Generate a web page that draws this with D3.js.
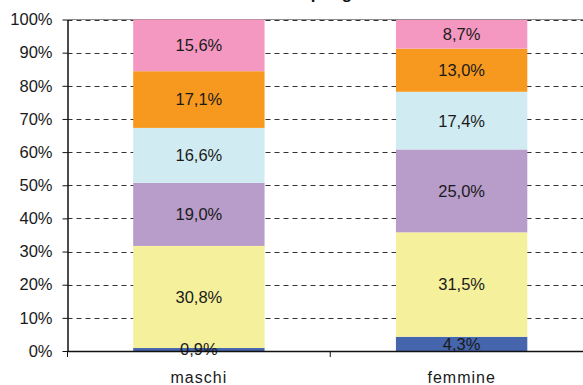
<!DOCTYPE html>
<html>
<head>
<meta charset="utf-8">
<script src="https://cdn.jsdelivr.net/npm/d3@7"></script>
<style>
  html, body { margin: 0; padding: 0; background: #fff; overflow: hidden; }
  svg { display: block; font-family: Arial, "Liberation Sans", sans-serif; }
</style>
</head>
<body>
<svg id="chart" width="583" height="385"></svg>
<script>
// Categories and stacked series (percent shares, bottom to top)
const categories = ["maschi", "femmine"];
const seriesNames = ["s1", "s2", "s3", "s4", "s5", "s6"];
const seriesColors = ["#4565ad", "#f5f09b", "#b89cc9", "#d0ecf2", "#f7991e", "#f498c1"];
const s1 = [0.9, 4.3];
const s2 = [30.8, 31.5];
const s3 = [19.0, 25.0];
const s4 = [16.6, 17.4];
const s5 = [17.1, 13.0];
const s6 = [15.6, 8.7];
const yTicks = [0, 10, 20, 30, 40, 50, 60, 70, 80, 90, 100];
const titleText = "Esito per genere";

const seriesValues = [s1, s2, s3, s4, s5, s6];
const rows = categories.map((c, i) => {
  const r = { cat: c };
  seriesNames.forEach((n, k) => { r[n] = seriesValues[k][i]; });
  return r;
});

const svg = d3.select("#chart");
const plotLeft = 67.5, plotRight = 593, plotTop = 19.5, plotBottom = 351;
const fontFam = "Arial, 'Liberation Sans', sans-serif";

const x = d3.scaleBand().domain(categories).range([plotLeft, plotRight]).paddingInner(0).paddingOuter(0);
const y = d3.scaleLinear().domain([0, 100]).range([plotBottom, plotTop]);
const barW = x.bandwidth() * 0.5;

// title (sits above the visible area)
svg.append("text")
  .attr("x", 331).attr("y", -1)
  .attr("text-anchor", "middle")
  .attr("font-size", 17).attr("font-weight", "bold")
  .attr("fill", "#111")
  .text(titleText);

// top border of plot area
svg.append("line")
  .attr("x1", plotLeft).attr("x2", plotRight)
  .attr("y1", y(100)).attr("y2", y(100))
  .attr("stroke", "#8c8c8c").attr("stroke-width", 1);

// dashed gridlines
svg.append("g").selectAll("line")
  .data(yTicks.filter(d => d > 0))
  .join("line")
  .attr("x1", plotLeft).attr("x2", plotRight)
  .attr("y1", d => Math.round(y(d)) + 0.5).attr("y2", d => Math.round(y(d)) + 0.5)
  .attr("stroke", "#333").attr("stroke-width", 1)
  .attr("stroke-dasharray", "5,4");

// stacked bars
const stack = d3.stack().keys(seriesNames)(rows);
const layers = svg.append("g").selectAll("g")
  .data(stack)
  .join("g")
  .attr("fill", (d, i) => seriesColors[i]);

layers.selectAll("rect")
  .data(d => d)
  .join("rect")
  .attr("x", d => x(d.data.cat) + (x.bandwidth() - barW) / 2)
  .attr("width", barW)
  .attr("y", d => y(d[1]))
  .attr("height", d => y(d[0]) - y(d[1]));

// value labels
const fmt = v => v.toFixed(1).replace(".", ",") + "%";
svg.append("g").selectAll("g")
  .data(stack)
  .join("g")
  .selectAll("text")
  .data(d => d.map(p => ({ p, key: d.key })))
  .join("text")
  .attr("x", d => x(d.p.data.cat) + x.bandwidth() / 2)
  .attr("y", d => (y(d.p[0]) + y(d.p[1])) / 2)
  .attr("dy", "0.36em")
  .attr("text-anchor", "middle")
  .attr("font-size", 16.5)
  .attr("fill", "#1a1a1a")
  .text(d => fmt(d.p.data[d.key]));

// y axis
const yAxis = svg.append("g")
  .attr("transform", `translate(${plotLeft},0)`)
  .call(d3.axisLeft(y).tickValues(yTicks).tickFormat(d => d + "%").tickSizeOuter(0).tickSizeInner(5).tickPadding(10));
yAxis.select(".domain").attr("stroke", "#111").attr("stroke-width", 1.5);
yAxis.selectAll(".tick line").attr("stroke", "#111");
yAxis.selectAll("text").attr("font-size", 16.5).attr("fill", "#1a1a1a").attr("font-family", fontFam);

// x axis
const xAxis = svg.append("g")
  .attr("transform", `translate(0,${plotBottom})`)
  .call(d3.axisBottom(x).tickSize(0).tickPadding(20.5));
xAxis.select(".domain").attr("stroke", "#111").attr("stroke-width", 1.5);
xAxis.selectAll("text").attr("font-size", 16).attr("letter-spacing", 1)
  .attr("fill", "#1a1a1a").attr("font-family", fontFam);

// category separator ticks
svg.append("g").selectAll("line")
  .data([plotLeft, x(categories[1]), plotRight])
  .join("line")
  .attr("x1", d => d).attr("x2", d => d)
  .attr("y1", plotBottom).attr("y2", plotBottom + 6)
  .attr("stroke", "#111").attr("stroke-width", 1);
</script>
</body>
</html>
